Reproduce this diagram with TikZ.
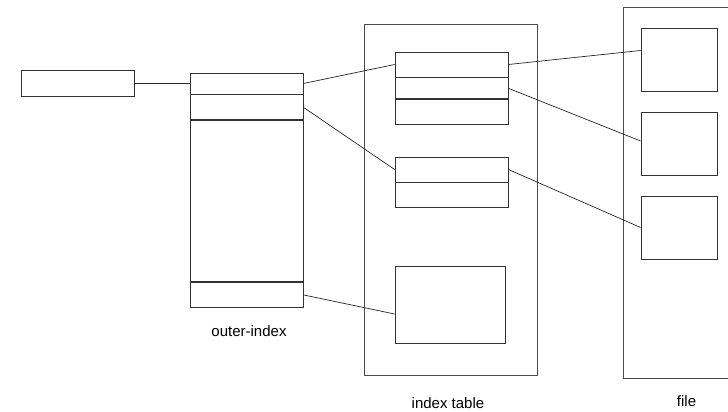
\documentclass[tikz,border=0pt]{standalone}
\usepackage{fontspec}
\setmainfont{Liberation Sans}
\usetikzlibrary{positioning}

\begin{document}
\begin{tikzpicture}[x=1pt, y=-1pt, every node/.style={font=\fontsize{15}{18}\selectfont, inner sep=1pt}]
\tikzstyle{cell}=[rectangle, draw=black!80, line width=0.8pt, inner sep=0pt, minimum width=113pt]
\tikzstyle{frame}=[rectangle, draw=black!70, line width=0.8pt, inner sep=0pt]
\tikzstyle{link}=[draw=black!85, line width=0.7pt]
\useasboundingbox (0,0) rectangle (728,412);

% key box on the left
\node[cell, minimum height=26pt] (key) at (77.5,83.5) {};

% outer index column
\node[cell, minimum height=21pt] (o1) at (246.5,83.5) {};
\node[cell, minimum height=25pt, below=0pt of o1] (o2) {};
\node[cell, minimum height=161pt, below=0pt of o2] (o3) {};
\node[cell, minimum height=25pt, below=0pt of o3] (o4) {};
\node at (249,331) (olabel) {outer-index};

% index table
\node[frame, minimum width=173pt, minimum height=351pt] (itable) at (450.5,199.5) {};
\node[cell, minimum height=25pt] (i1a) at (451.5,64.5) {};
\node[cell, minimum height=21pt, below=0pt of i1a] (i1b) {};
\node[cell, minimum height=25pt, below=0pt of i1b] (i1c) {};
\node[cell, minimum height=25pt] (i2a) at (451.5,169.5) {};
\node[cell, minimum height=25pt, below=0pt of i2a] (i2b) {};
\node[cell, minimum width=110pt, minimum height=77pt] (i3) at (450,304.5) {};
\node at (448,403) (tlabel) {index table};

% file
\node[frame, minimum width=107pt, minimum height=371pt] (file) at (676.5,192.5) {};
\node[cell, minimum width=76pt, minimum height=63pt] (fA) at (679,59.5) {};
\node[cell, minimum width=76pt, minimum height=63pt] (fB) at (679,143.5) {};
\node[cell, minimum width=76pt, minimum height=63pt] (fC) at (679,227.5) {};
\node at (686.5,401) (flabel) {file};

% pointers
\draw[link] (key.east) -- (o1.west);
\draw[link] (o1.east) -- (i1a.west);
\draw[link] (o2.east) -- (i2a.west);
\draw[link] (o4.east) -- ([yshift=-9.5pt]i3.west);
\draw[link] (i1a.east) -- ([yshift=9pt]fA.west);
\draw[link] (i1b.east) -- ([yshift=2.5pt]fB.west);
\draw[link] (i2a.east) -- (fC.west);
\end{tikzpicture}
\end{document}
